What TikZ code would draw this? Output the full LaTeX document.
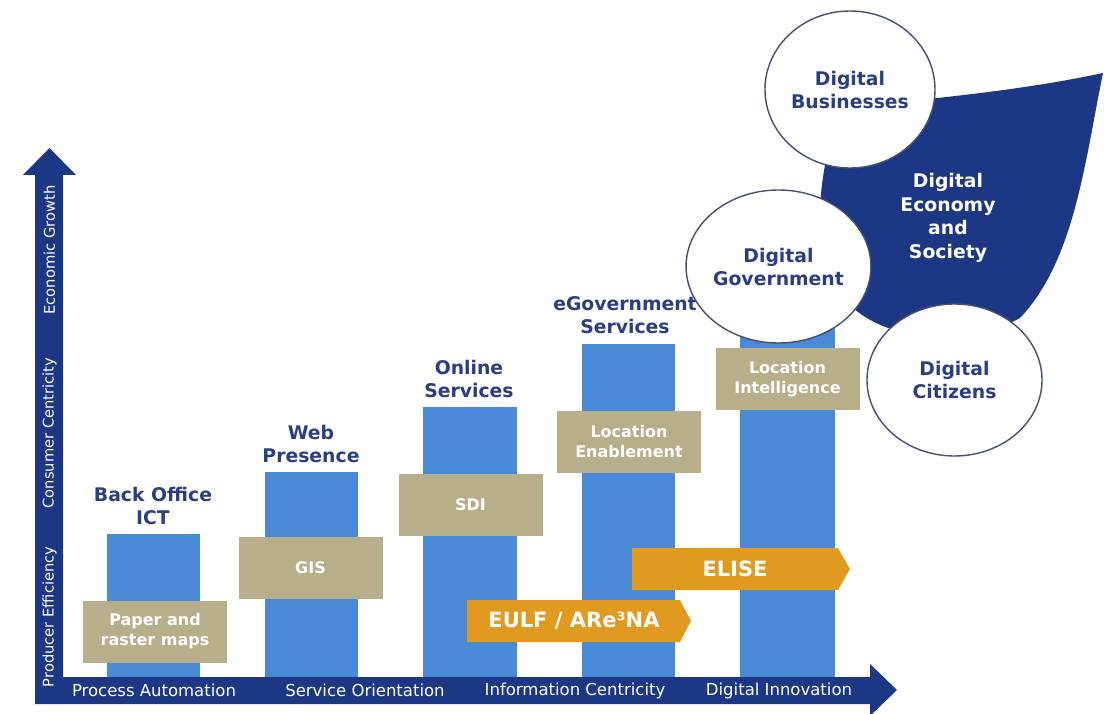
\documentclass[tikz,border=0pt]{standalone}
\usepackage{fontspec}
\setmainfont{DejaVu Sans}
\usetikzlibrary{shapes.geometric}
\definecolor{barblue}{RGB}{74,137,214}
\definecolor{tanc}{RGB}{184,174,138}
\definecolor{orangec}{RGB}{224,154,32}
\definecolor{navy}{RGB}{28,56,132}
\definecolor{headblue}{RGB}{42,62,134}
\definecolor{ringc}{RGB}{70,80,110}
\begin{document}
\begin{tikzpicture}[x=1pt,y=-1pt,
  bar/.style={fill=barblue, draw=none, inner sep=0, outer sep=0},
  tanbox/.style={fill=tanc, draw=none, inner sep=0, minimum width=144pt, minimum height=62pt, text=white, align=center, font=\bfseries\fontsize{16}{20}\selectfont},
  heading/.style={text=headblue, align=center, inner sep=0, font=\bfseries\fontsize{18.8}{23.5}\selectfont},
  orangetext/.style={text=white, inner sep=0, font=\bfseries\fontsize{21}{24}\selectfont},
  axistext/.style={text=white, inner sep=0, font=\fontsize{16.5}{18}\selectfont},
  vaxistext/.style={text=white, inner sep=0, rotate=90, font=\fontsize{14.7}{16}\selectfont},
  ring/.style={ellipse, fill=white, draw=ringc, line width=1.4pt, inner sep=0, text=headblue, align=center, font=\bfseries\fontsize{18.8}{23}\selectfont},
  blobtext/.style={text=white, align=center, inner sep=0, font=\bfseries\fontsize{18.8}{23.5}\selectfont}
]
\useasboundingbox (0,0) rectangle (1104,714);
\fill[white] (0,0) rectangle (1104,714);

% bars
\node[bar, minimum width=93pt, minimum height=143pt] (b1) at (153.5,605.5) {};
\node[bar, minimum width=93pt, minimum height=205pt] (b2) at (311.5,574.5) {};
\node[bar, minimum width=94pt, minimum height=270pt] (b3) at (470,542) {};
\node[bar, minimum width=93pt, minimum height=333pt] (b4) at (628.5,510.5) {};
\node[bar, minimum width=95pt, minimum height=349pt] (b5) at (787.5,502.5) {};

% tan boxes
\node[tanbox] (t1) at (155,631.5) {Paper and\\raster maps};
\node[tanbox] (t2) at (310.5,568) {GIS};
\node[tanbox] (t3) at (470.5,504.5) {SDI};
\node[tanbox] (t4) at (629,442) {Location\\Enablement};
\node[tanbox] (t5) at (787.5,379) {Location\\Intelligence};

% orange arrows
\fill[orangec] (467,600) -- (680,600) -- (691,621) -- (680,642) -- (467,642) -- cycle;
\node[orangetext] (eulf) at (574,621) {EULF / ARe³NA};
\fill[orangec] (632,548) -- (838,548) -- (850,569) -- (838,590) -- (632,590) -- cycle;
\node[orangetext] (elise) at (735,569) {ELISE};

% axes
\fill[navy] (35,704) -- (35,175) -- (23,175) -- (49.5,148) -- (76,175) -- (63,175)
  -- (63,677) -- (870,677) -- (870,664) -- (897,690) -- (870,716) -- (870,704) -- cycle;
\node[axistext] (x1) at (154,690.5) {Process Automation};
\node[axistext] (x2) at (365,690.5) {Service Orientation};
\node[axistext] (x3) at (575,690.5) {Information Centricity};
\node[axistext] (x4) at (779,690.5) {Digital Innovation};
\node[vaxistext] (y1) at (49.5,617) {Producer Efficiency};
\node[vaxistext] (y2) at (49.5,433) {Consumer Centricity};
\node[vaxistext] (y3) at (49.5,250) {Economic Growth};

% headings
\node[heading] (h1) at (153,506) {Back Office\\ICT};
\node[heading] (h2) at (311,444) {Web\\Presence};
\node[heading] (h3) at (469,379) {Online\\Services};
\node[heading] (h4) at (625,315) {eGovernment\\Services};

% blob
\fill[navy] (840,110) .. controls (900,100) and (1000,95) .. (1103,73)
  .. controls (1085,160) and (1075,260) .. (1020,318)
  .. controls (960,350) and (880,340) .. (845,300)
  .. controls (810,260) and (815,180) .. (840,110) -- cycle;
\node[blobtext] (deco) at (948,218) {Digital\\Economy\\and\\Society};

% circles
\node[ring, minimum width=170pt, minimum height=157pt] (busi) at (850,89.5) {Digital\\Businesses};
\node[ring, minimum width=153pt, minimum height=153pt] (gov) at (778.5,266.5) {Digital\\Government};
\node[ring, minimum width=175pt, minimum height=152pt] (citi) at (954.5,380) {Digital\\Citizens};
\end{tikzpicture}
\end{document}
